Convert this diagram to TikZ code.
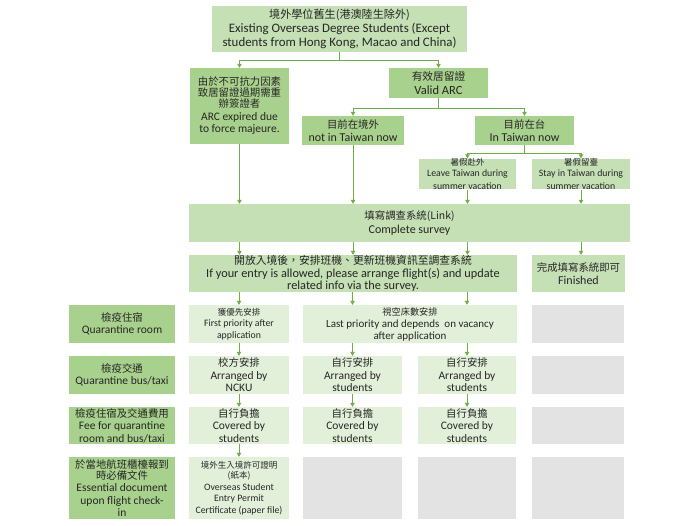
\documentclass[tikz,border=0pt]{standalone}
\usepackage{fontspec}
\setmainfont{Carlito}
\newfontfamily\cjk{Noto Sans CJK TC}
\usetikzlibrary{arrows.meta}
\definecolor{gDark}{HTML}{A9D18E}
\definecolor{gMid}{HTML}{C5E0B4}
\definecolor{gLight}{HTML}{E2F0D9}
\definecolor{gGray}{HTML}{E3E3E3}
\definecolor{gLine}{HTML}{70AD47}
\newcommand\zh[1]{{\cjk\fontsize{10.4}{12}\selectfont #1}}
\newcommand\zhs[1]{{\cjk\fontsize{8.5}{10}\selectfont #1}}
\newcommand\smalltxt{\fontsize{9.8}{10.5}\selectfont}
\newcommand\bx[7]{\node[#2, minimum width={#5-#3}, minimum height={#6-#4}] (#1) at ({(#3+#5)/2},{(#4+#6)/2}) {#7};}
\tikzset{
  box/.style={inner sep=0pt, align=center, text=black!85, font=\fontsize{11.5}{12.5}\selectfont},
  dark/.style={box, fill=gDark},
  mid/.style={box, fill=gMid},
  light/.style={box, fill=gLight},
  grey/.style={box, fill=gGray},
  ln/.style={draw=gLine, line width=0.8pt},
  arr/.style={ln, -{Triangle[width=4.5pt,length=4pt]}}
}
\begin{document}
\begin{tikzpicture}[x=1pt,y=-1pt]
\useasboundingbox (0,0) rectangle (700,525);
% top part
\bx{top}{mid, font=\fontsize{12.9}{14}\selectfont}{212}{6}{467}{52}{{\cjk\fontsize{11.1}{13}\selectfont 境外學位舊生(港澳陸生除外)}\\Existing Overseas Degree Students (Except\\students from Hong Kong, Macao and China)}
\bx{A}{dark}{190}{68}{289}{144}{\zh{由於不可抗力因素}\\[-1.5pt]\zh{致居留證過期需重}\\[-1.5pt]\zh{辦簽證者}\\ARC expired due\\to force majeure.}
\bx{V}{dark, font=\fontsize{12.5}{14}\selectfont}{389}{68}{488}{98}{{\cjk\fontsize{10.7}{12}\selectfont 有效居留證}\\Valid ARC}
\bx{N}{dark, font=\fontsize{12}{13.5}\selectfont}{302}{116}{404}{145}{\zh{目前在境外}\\not in Taiwan now}
\bx{I}{dark, font=\fontsize{12}{13.5}\selectfont}{475}{116}{574}{145}{\zh{目前在台}\\In Taiwan now}
\bx{L}{mid}{419}{160}{516}{188}{\smalltxt\zhs{暑假赴外}\\[-1.5pt]{\smalltxt Leave Taiwan during}\\{\smalltxt summer vacation}}
\bx{S}{mid}{532}{160}{630}{188}{\smalltxt\zhs{暑假留臺}\\[-1.5pt]{\smalltxt Stay in Taiwan during}\\{\smalltxt summer vacation}}
\bx{Sv}{mid, font=\fontsize{12}{13.5}\selectfont}{189}{204}{630}{242}{\zh{填寫調查系統(Link)}\\[1pt]Complete survey}
\bx{F}{mid, font=\fontsize{12.3}{12.8}\selectfont}{189}{255}{517}{292}{{\cjk\fontsize{10.8}{12}\selectfont 開放入境後，安排班機、更新班機資訊至調查系統}\\If your entry is allowed, please arrange flight(s) and update\\related info via the survey.}
\bx{fin}{mid, font=\fontsize{12}{13.5}\selectfont}{532}{255}{625}{292}{\zh{完成填寫系統即可}\\Finished}
% row labels
\bx{lab1}{dark}{69}{305}{175}{343}{\zh{檢疫住宿}\\Quarantine room}
\bx{lab2}{dark}{69}{356}{175}{394}{\zh{檢疫交通}\\Quarantine bus/taxi}
\bx{lab3}{dark}{69}{407}{175}{444}{\zh{檢疫住宿及交通費用}\\Fee for quarantine\\room and bus/taxi}
\bx{lab4}{dark}{69}{457}{175}{519}{\zh{於當地航班櫃檯報到}\\[-1.5pt]\zh{時必備文件}\\Essential document\\upon flight check-\\in}
% row 1
\bx{r1a}{light}{189}{305}{289}{343}{\zhs{獲優先安排}\\[-1.5pt]{\smalltxt First priority after}\\{\smalltxt application}}
\bx{r1b}{light, font=\fontsize{11}{12}\selectfont}{303}{305}{517}{343}{{\cjk\fontsize{9.2}{11}\selectfont 視空床數安排}\\Last priority and depends~ on vacancy\\after application}
\bx{r1d}{grey}{532}{305}{624}{343}{}
% row 2
\bx{r2a}{light}{189}{356}{289}{394}{\zh{校方安排}\\Arranged by\\NCKU}
\bx{r2b}{light}{303}{356}{402}{394}{\zh{自行安排}\\Arranged by\\students}
\bx{r2c}{light}{418}{356}{516}{394}{\zh{自行安排}\\Arranged by\\students}
\bx{r2d}{grey}{532}{356}{624}{394}{}
% row 3
\bx{r3a}{light}{189}{407}{289}{444}{\zh{自行負擔}\\Covered by\\students}
\bx{r3b}{light}{303}{407}{402}{444}{\zh{自行負擔}\\Covered by\\students}
\bx{r3c}{light}{418}{407}{516}{444}{\zh{自行負擔}\\Covered by\\students}
\bx{r3d}{grey}{532}{407}{624}{444}{}
% row 4
\bx{r4a}{light}{189}{457}{289}{519}{\zhs{境外生入境許可證明}\\[-2pt]\zhs{(紙本)}\\[-1pt]{\smalltxt Overseas Student}\\[-1pt]{\smalltxt Entry Permit}\\[-1pt]{\smalltxt Certificate (paper file)}}
\bx{r4b}{grey}{303}{457}{402}{519}{}
\bx{r4c}{grey}{418}{457}{516}{519}{}
\bx{r4d}{grey}{532}{457}{624}{519}{}
% connectors
\coordinate (j1) at (339.5,60);
\draw[ln] (top.south) -- (j1);
\draw[arr] (j1) -| (A.north);
\draw[arr] (j1) -| (V.north);
\coordinate (j2) at (438.5,108);
\draw[ln] (V.south) -- (j2);
\draw[arr] (j2) -| (N.north);
\draw[arr] (j2) -| (I.north);
\coordinate (j3) at (524.5,153);
\draw[ln] (I.south) -- (j3);
\draw[arr] (j3) -| (L.north);
\draw[arr] (j3) -| (S.north);
\draw[arr] (A.south) -- (A.south |- Sv.north);
\draw[arr] (N.south) -- (N.south |- Sv.north);
\draw[arr] (L.south) -- (L.south |- Sv.north);
\draw[arr] (S.south) -- (S.south |- Sv.north);
\draw[arr] (Sv.south -| A) -- (F.north -| A);
\draw[arr] (Sv.south -| N) -- (F.north -| N);
\draw[arr] (Sv.south -| L) -- (F.north -| L);
\draw[arr] (Sv.south -| S) -- (fin.north -| S);
\draw[arr] (F.south -| r1a) -- (r1a.north);
\draw[arr] (F.south -| r2b) -- (r1b.north -| r2b);
\draw[arr] (F.south -| r2c) -- (r1b.north -| r2c);
\draw[arr] (r1a.south) -- (r2a.north);
\draw[arr] (r1b.south -| r2b) -- (r2b.north);
\draw[arr] (r1b.south -| r2c) -- (r2c.north);
\draw[arr] (r2a.south) -- (r3a.north);
\draw[arr] (r2b.south) -- (r3b.north);
\draw[arr] (r2c.south) -- (r3c.north);
\draw[arr] (r3a.south) -- (r4a.north);
\end{tikzpicture}
\end{document}
